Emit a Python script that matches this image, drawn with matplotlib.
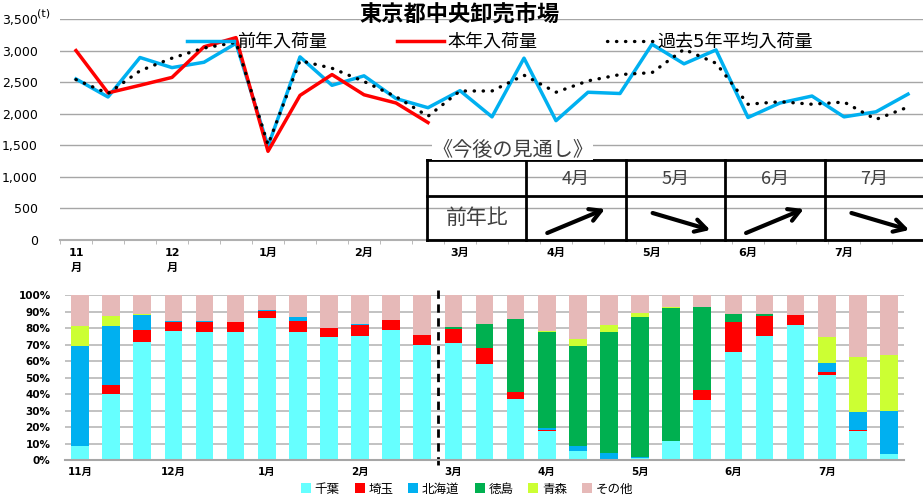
import numpy as np
import matplotlib.pyplot as plt
from matplotlib.ticker import FuncFormatter, FixedLocator
from matplotlib.patches import Patch

plt.rcParams['font.family'] = ['DejaVu Sans', 'Noto Sans CJK JP']

# ---- data ----
months = ['11月', '12月', '1月', '2月', '3月', '4月', '5月', '6月', '7月']
top_labels = ['11\n月', '12\n月', '1月', '2月', '3月', '4月', '5月', '6月', '7月']

prev_year = [2550, 2265, 2890, 2730, 2815, 3115, 1485, 2900, 2450, 2600, 2240, 2095,
             2365, 1950, 2880, 1890, 2340, 2320, 3100, 2790, 3010, 1940, 2170, 2280,
             1950, 2030, 2310]
this_year = [3000, 2330, 2450, 2575, 3060, 3205, 1405, 2290, 2620, 2300, 2170, 1860]
avg5 = [2540, 2320, 2680, 2880, 3040, 3130, 1510, 2840, 2720, 2510, 2270, 1960,
        2360, 2360, 2610, 2340, 2520, 2620, 2650, 3020, 2800, 2150, 2190, 2150,
        2185, 1910, 2105]

origins = ['千葉', '埼玉', '北海道', '徳島', '青森', 'その他']
chiba = [8.3, 39.9, 71.4, 78.0, 77.4, 77.4, 86.3, 77.4, 74.8, 75.0, 78.8, 69.4, 71.2,
         58.3, 36.9, 17.3, 5.2, 0.8, 1.2, 11.3, 36.1, 65.7, 75.2, 81.9, 51.6, 17.3, 3.8]
saitama = [0, 5.3, 7.6, 5.5, 6.5, 6.5, 4.2, 7.1, 5.4, 6.9, 5.9, 6.6, 8.4,
           9.4, 4.2, 1.0, 0, 0, 0, 0, 6.4, 17.8, 12.3, 6.2, 1.8, 0.6, 0]
hokkaido = [60.5, 36.3, 9.1, 0.8, 0.4, 0, 0.6, 2.2, 0, 0.6, 0, 0, 0,
            0, 0, 0.8, 3.5, 3.6, 0.4, 0, 0, 0, 0, 0, 5.3, 10.9, 26.0]
tokushima = [0, 0, 0, 0, 0, 0, 0, 0, 0, 0, 0, 0, 0.8,
             15.0, 44.2, 58.7, 60.1, 73.4, 85.3, 80.8, 50.0, 4.8, 0.8, 0, 0, 0, 0]
aomori = [12.7, 6.0, 0.6, 0, 0, 0, 0, 0, 0, 0, 0, 0, 0,
          0, 0, 0.6, 4.4, 4.3, 2.0, 0.6, 0, 0, 0, 0, 15.7, 33.5, 33.9]
other = [18.5, 12.5, 11.3, 15.7, 15.7, 16.1, 8.9, 13.3, 19.8, 17.5, 15.3, 24.0, 19.6,
         17.3, 14.7, 21.6, 26.8, 17.9, 11.1, 7.3, 7.5, 11.7, 11.7, 11.9, 25.6, 37.7, 36.3]
colors = ['#66FFFF', '#FF0000', '#00B0F0', '#00B050', '#CCFF33', '#E6B9B8']

outlook_months = ['4月', '5月', '6月', '7月']
outlook = ['up', 'down', 'up', 'down']

W, H = 923, 498
fig = plt.figure(figsize=(W / 100, H / 100), dpi=100)

def box(l, r, t, b):
    return [l / W, 1 - b / H, (r - l) / W, (b - t) / H]

# ---- top line chart ----
ax1 = fig.add_axes(box(60, 924, 19, 240))
x = np.arange(len(prev_year))
ax1.plot(x, prev_year, color='#00B0F0', lw=2.5, label='前年入荷量')
ax1.plot(np.arange(len(this_year)), this_year, color='#FF0000', lw=2.5, label='本年入荷量')
ax1.plot(x, avg5, color='k', lw=2.4, ls=(0, (0.1, 2.6)), dash_capstyle='round',
         label='過去5年平均入荷量')
ax1.set_xlim(-0.5, 26.5)
ax1.set_ylim(0, 3500)
ax1.set_yticks(np.arange(0, 3501, 500))
ax1.yaxis.set_major_formatter(FuncFormatter(lambda v, p: '{:,.0f}'.format(v)))
ax1.grid(axis='y', color='#A6A6A6', lw=1)
ax1.set_axisbelow(True)
for s in ['left', 'right', 'top']:
    ax1.spines[s].set_visible(False)
ax1.spines['bottom'].set_color('#B0B0B0')
ax1.spines['bottom'].set_linewidth(1.5)
ax1.set_xticks(np.arange(0, 27, 3))
ax1.set_xticklabels(top_labels, fontsize=8, fontweight='bold', linespacing=1.6)
ax1.xaxis.set_minor_locator(FixedLocator(np.arange(-0.5, 27, 1)))
ax1.tick_params(axis='x', which='major', length=0, pad=6)
ax1.tick_params(axis='x', which='minor', length=3, color='#B0B0B0', direction='out')
ax1.tick_params(axis='y', length=0, labelsize=9, pad=16)
ax1.legend(loc='center', bbox_to_anchor=(500 / W, 1 - 42 / H), bbox_transform=fig.transFigure,
           ncol=3, frameon=False, fontsize=13, handlelength=2.6, columnspacing=3.9,
           handletextpad=0.15)

fig.text(460 / W, 1 - 15 / H, '東京都中央卸売市場', fontsize=16, fontweight='bold',
         ha='center', va='center', family=['Noto Sans CJK JP'])
fig.text(37 / W, 1 - 13 / H, '(t)', fontsize=8, ha='left', va='center')

# ---- outlook table ----
tab = fig.add_axes(box(427, 924, 160, 240))
tab.set_xlim(0, 5)
tab.set_ylim(80, 0)
tab.axis('off')
tab.patch.set_alpha(0)
for yy in [0, 36, 80]:
    tab.plot([0, 5], [yy, yy], color='k', lw=2, clip_on=False, solid_capstyle='projecting')
for xx in range(5):
    tab.plot([xx, xx], [0, 80], color='k', lw=2, clip_on=False, solid_capstyle='projecting')
tcol = '#404040'
for i, m in enumerate(outlook_months):
    tab.text(i + 1.5, 19, m, ha='center', va='center', fontsize=13, color=tcol,
             family=['Noto Sans CJK JP'])
tab.text(0.5, 58, '前年比', ha='center', va='center', fontsize=15, color=tcol,
         family=['Noto Sans CJK JP'])
for i, d in enumerate(outlook):
    c = i + 1
    if d == 'up':
        start, end = (c + 0.21, 73), (c + 0.79, 49)
    else:
        start, end = (c + 0.27, 53), (c + 0.85, 70)
    tab.annotate('', xy=end, xytext=start,
                 arrowprops=dict(arrowstyle='->,head_length=0.8,head_width=0.45',
                                 lw=3, color='k', shrinkA=0, shrinkB=0))
fig.text(432 / W, 1 - 150 / H, '《今後の見通し》', fontsize=14.5, color=tcol, ha='left',
         va='center', family=['Noto Sans CJK JP'],
         bbox=dict(facecolor='white', edgecolor='none', pad=0))

# ---- bottom stacked bars ----
ax2 = fig.add_axes(box(64.5, 904.5, 295, 460))
series = [chiba, saitama, hokkaido, tokushima, aomori, other]
bottom = np.zeros(len(chiba))
for name, vals, col in zip(origins, series, colors):
    ax2.bar(np.arange(len(vals)), vals, bottom=bottom, width=0.57, color=col, label=name)
    bottom += np.array(vals)
ax2.set_xlim(-0.5, 26.5)
ax2.set_ylim(0, 100)
ax2.set_yticks(np.arange(0, 101, 10))
ax2.yaxis.set_major_formatter(FuncFormatter(lambda v, p: '{:.0f}%'.format(v)))
ax2.grid(axis='y', color='#B8B8B8', lw=1.2)
ax2.set_axisbelow(True)
for s in ['left', 'right', 'top']:
    ax2.spines[s].set_visible(False)
ax2.spines['bottom'].set_color('#A6A6A6')
ax2.spines['bottom'].set_linewidth(1.5)
ax2.set_xticks(np.arange(0, 27, 3))
ax2.set_xticklabels(months, fontsize=7.5, fontweight='bold')
ax2.tick_params(axis='x', length=0, pad=5)
ax2.tick_params(axis='y', length=0, labelsize=7.5, pad=10)
for lab in ax2.get_yticklabels():
    lab.set_fontweight('bold')
ax2.axvline(11.5, ymin=-0.03, ymax=1.03, clip_on=False, color='k', lw=2, ls=(0, (3, 2)))

handles = [Patch(facecolor=c, label=n) for n, c in zip(origins, colors)]
fig.legend(handles=handles, loc='center', bbox_to_anchor=(467 / W, 1 - 489 / H), ncol=6,
           frameon=False, fontsize=9, handlelength=0.8, handleheight=0.8,
           handletextpad=0.3, columnspacing=1.2)

fig.savefig('out.png', dpi=100)
